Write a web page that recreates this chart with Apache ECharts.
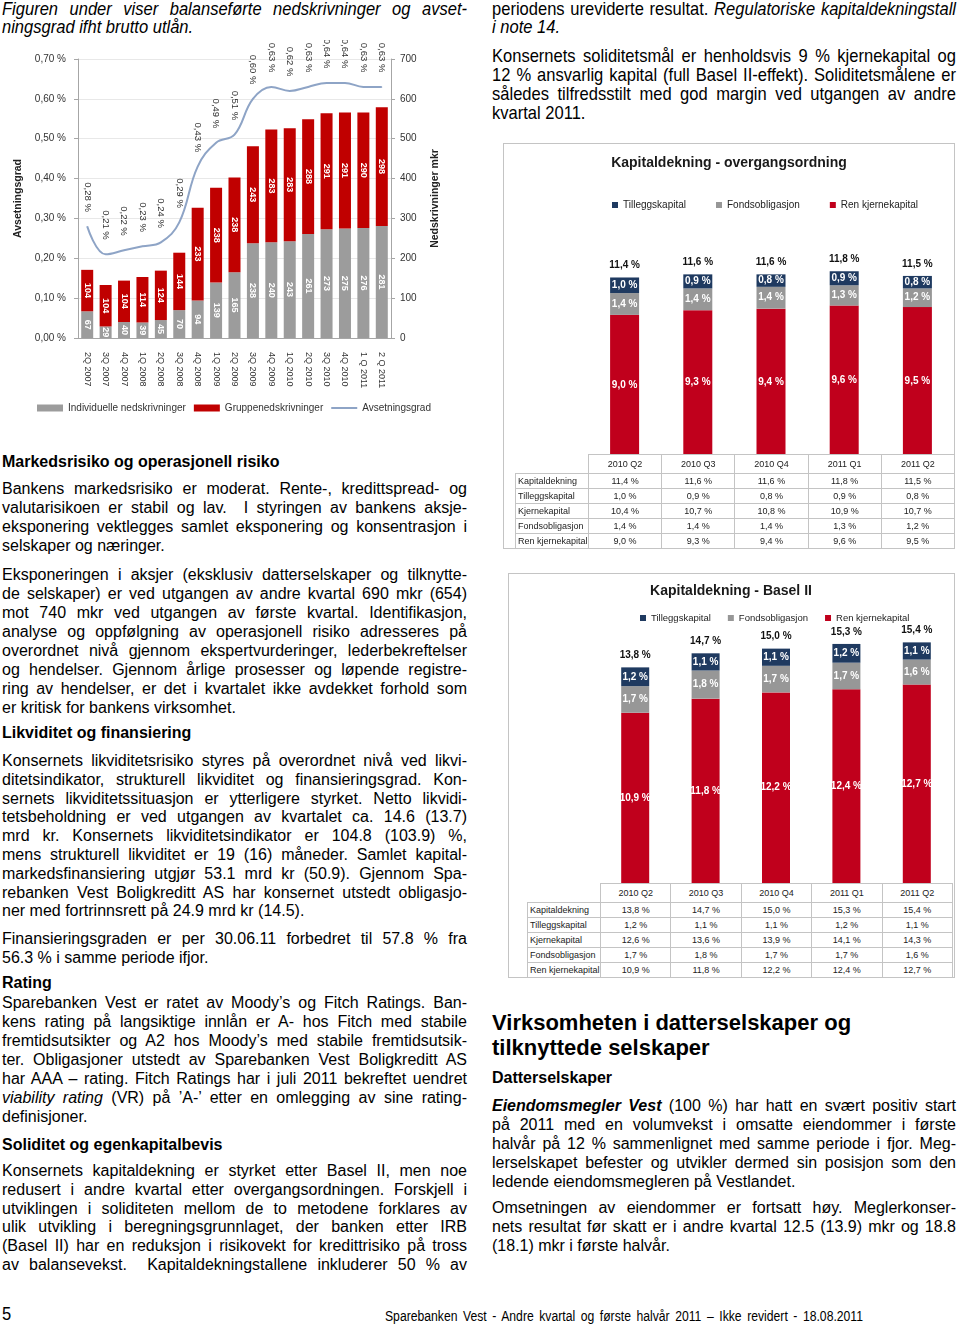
<!DOCTYPE html>
<html>
<head>
<meta charset="utf-8">
<script src="https://cdn.jsdelivr.net/npm/echarts@6/dist/echarts.min.js"></script>
<style>
  body { margin: 0; background: #fff; }
  #page { position: relative; width: 960px; height: 1325px; overflow: hidden;
          font-family: "Liberation Sans", Arial, sans-serif; color: #000; }
  .ln { position: absolute; text-align: justify; text-align-last: justify; font-size: 16px; }
  .last { text-align-last: left; }
  .b { font-weight: bold; }
  .nar { transform: scaleX(0.87); transform-origin: 0 0; font-size: 19px; }
  .box { position: absolute; border: 1px solid #C4C4C4; box-sizing: border-box; }
  .chart { position: absolute; }
  table.dt { position: absolute; border-collapse: collapse; table-layout: fixed;
             font-size: 9px; color: #222; }
  table.dt td { border: 1px solid #C4C4C4; padding: 0; text-align: center; white-space: nowrap; }
  table.dt td.h { text-align: left; padding-left: 2px; }
  table.dt td.blank { border-top: none; border-left: none; }
</style>
</head>
<body>
<div id="page">
  <div class="box" style="left:503px;top:143px;width:452px;height:406px;"></div>
  <div class="box" style="left:508px;top:573px;width:447px;height:405px;"></div>
  <div id="c1" class="chart" style="left:0;top:40px;width:466px;height:390px;"></div>
  <div id="c2" class="chart" style="left:503px;top:143px;width:452px;height:312px;"></div>
  <div id="c3" class="chart" style="left:508px;top:573px;width:446px;height:310px;"></div>
</div>
<script>
// nedskrivninger og avsetningsgrad
const quarters = ["2Q 2007", "3Q 2007", "4Q 2007", "1Q 2008", "2Q 2008", "3Q 2008", "4Q 2008",
  "1Q 2009", "2Q 2009", "3Q 2009", "4Q 2009", "1Q 2010", "2Q 2010", "3Q 2010", "4Q 2010",
  "1 Q 2011", "2 Q 2011"];
const individual = [67, 29, 40, 39, 45, 70, 94, 139, 165, 238, 240, 243, 261, 273, 275, 276, 281];
const group = [104, 104, 104, 114, 124, 144, 233, 238, 238, 243, 283, 283, 288, 291, 291, 290, 298];
const provisionRate = [0.28, 0.21, 0.22, 0.23, 0.24, 0.29, 0.43, 0.49, 0.51, 0.60, 0.63, 0.62,
  0.63, 0.64, 0.64, 0.63, 0.63];

// kapitaldekning
const periods = ["2010 Q2", "2010 Q3", "2010 Q4", "2011 Q1", "2011 Q2"];
const trTotal = [11.4, 11.6, 11.6, 11.8, 11.5];
const trTillegg = [1.0, 0.9, 0.8, 0.9, 0.8];
const trKjerne = [10.4, 10.7, 10.8, 10.9, 10.7];
const trFonds = [1.4, 1.4, 1.4, 1.3, 1.2];
const trRen = [9.0, 9.3, 9.4, 9.6, 9.5];

const b2Total = [13.8, 14.7, 15.0, 15.3, 15.4];
const b2Tillegg = [1.2, 1.1, 1.1, 1.2, 1.1];
const b2Kjerne = [12.6, 13.6, 13.9, 14.1, 14.3];
const b2Fonds = [1.7, 1.8, 1.7, 1.7, 1.6];
const b2Ren = [10.9, 11.8, 12.2, 12.4, 12.7];

const RED = "#C0001C";
const GREY = "#979797";
const NAVY = "#1F3A60";
const FONT = "Liberation Sans, Arial, sans-serif";
const NARROW = 0.87;

const pct = (v) => v.toFixed(1).replace(".", ",") + " %";
const pct2 = (v) => v.toFixed(2).replace(".", ",") + " %";

const page = document.getElementById("page");

// one div per text line so the line breaks match the page
function block(x, top, w, lh, lines, cls) {
  cls = cls || "";
  const narrow = cls.indexOf("nar") >= 0;
  lines.forEach((t, i) => {
    const d = document.createElement("div");
    d.className = "ln " + cls + (i === lines.length - 1 ? " last" : "");
    d.style.left = x + "px";
    d.style.top = top + i * lh + "px";
    d.style.width = (narrow ? w / NARROW : w) + "px";
    d.style.lineHeight = lh + "px";
    d.style.height = lh + "px";
    d.innerHTML = t;
    page.appendChild(d);
    let fs = parseFloat(getComputedStyle(d).fontSize);
    while (d.scrollHeight > lh * 1.5 && fs > 9) {
      fs -= 0.2;
      d.style.fontSize = fs + "px";
    }
  });
}

function lastOnly(x, top, w, lh, lines, cls) {
  lines.forEach((t, i) => block(x, top + i * lh, w, lh, [t], cls));
}

// left column
block(2, 0, 465, 18, [
  "<i>Figuren under viser balanseførte nedskrivninger og avset-</i>",
  "<i>ningsgrad ifht brutto utlån.</i>"], "nar");

block(2, 452, 465, 19, ["Markedsrisiko og operasjonell risiko"], "b");
block(2, 479, 465, 19, [
  "Bankens markedsrisiko er moderat. Rente-, kredittspread- og",
  "valutarisikoen er stabil og lav.&nbsp; I styringen av bankens aksje-",
  "eksponering vektlegges samlet eksponering og konsentrasjon i",
  "selskaper og næringer."]);
block(2, 565, 465, 19, [
  "Eksponeringen i aksjer (eksklusiv datterselskaper og tilknytte-",
  "de selskaper) er ved utgangen av andre kvartal 690 mkr (654)",
  "mot 740 mkr ved utgangen av første kvartal. Identifikasjon,",
  "analyse og oppfølgning av operasjonell risiko adresseres på",
  "overordnet nivå gjennom ekspertvurderinger, lederbekreftelser",
  "og hendelser. Gjennom årlige prosesser og løpende registre-",
  "ring av hendelser, er det i kvartalet ikke avdekket forhold som",
  "er kritisk for bankens virksomhet."]);

block(2, 723, 465, 19, ["Likviditet og finansiering"], "b");
block(2, 752, 465, 18.8, [
  "Konsernets likviditetsrisiko styres på overordnet nivå ved likvi-",
  "ditetsindikator, strukturell likviditet og finansieringsgrad. Kon-",
  "sernets likviditetssituasjon er ytterligere styrket. Netto likvidi-",
  "tetsbeholdning er ved utgangen av kvartalet ca. 14.6 (13.7)",
  "mrd kr. Konsernets likviditetsindikator er 104.8 (103.9) %,",
  "mens strukturell likviditet er 19 (16) måneder. Samlet kapital-",
  "markedsfinansiering utgjør 53.1 mrd kr (50.9). Gjennom Spa-",
  "rebanken Vest Boligkreditt AS har konsernet utstedt obligasjo-",
  "ner med fortrinnsrett på 24.9 mrd kr (14.5)."]);
block(2, 930, 465, 18.8, [
  "Finansieringsgraden er per 30.06.11 forbedret til 57.8 % fra",
  "56.3 % i samme periode ifjor."]);

block(2, 973, 465, 19, ["Rating"], "b");
block(2, 993, 465, 19, [
  "Sparebanken Vest er ratet av Moody’s og Fitch Ratings. Ban-",
  "kens rating på langsiktige innlån er A- hos Fitch med stabile",
  "fremtidsutsikter og A2 hos Moody’s med stabile fremtidsutsik-",
  "ter. Obligasjoner utstedt av Sparebanken Vest Boligkreditt AS",
  "har AAA – rating. Fitch Ratings har i juli 2011 bekreftet uendret",
  "<i>viability rating</i> (VR) på ’A-’ etter en omlegging av sine rating-",
  "definisjoner."]);

block(2, 1135, 465, 19, ["Soliditet og egenkapitalbevis"], "b");
block(2, 1162, 465, 18.8, [
  "Konsernets kapitaldekning er styrket etter Basel II, men noe",
  "redusert i andre kvartal etter overgangsordningen. Forskjell i",
  "utviklingen i soliditeten mellom de to metodene forklares av",
  "ulik utvikling i beregningsgrunnlaget, der banken etter IRB",
  "(Basel II) har en reduksjon i risikovekt for kredittrisiko på tross",
  "av balansevekst.&nbsp; Kapitaldekningstallene inkluderer 50 % av",
  ""]);

// right column
block(492, 0, 464, 18, [
  "periodens ureviderte resultat. <i>Regulatoriske kapitaldekningstall</i>",
  "<i>i note 14.</i>"], "nar");
block(492, 46, 464, 19, [
  "Konsernets soliditetsmål er henholdsvis 9 % kjernekapital og",
  "12 % ansvarlig kapital (full Basel II-effekt). Soliditetsmålene er",
  "således tilfredsstilt med god margin ved utgangen av andre",
  "kvartal 2011."], "nar");

lastOnly(492, 1010, 464, 25, [
  "Virksomheten i datterselskaper og",
  "tilknyttede selskaper"], "b big");
block(492, 1068, 464, 19, ["Datterselskaper"], "b");
block(492, 1096, 464, 19, [
  "<b><i>Eiendomsmegler Vest</i></b> (100 %) har hatt en svært positiv start",
  "på 2011 med en volumvekst i omsatte eiendommer i første",
  "halvår på 12 % sammenlignet med samme periode i fjor. Meg-",
  "lerselskapet befester og utvikler dermed sin posisjon som den",
  "ledende eiendomsmegleren på Vestlandet."]);
block(492, 1198, 464, 19, [
  "Omsetningen av eiendommer er fortsatt høy. Meglerkonser-",
  "nets resultat før skatt er i andre kvartal 12.5 (13.9) mkr og 18.8",
  "(18.1) mkr i første halvår."]);

// footer
block(2, 1304, 30, 19, ["5"], "nar");
block(385, 1306, 478, 18, [
  "<span style='font-size:14px'>Sparebanken Vest - Andre kvartal og første halvår 2011 – Ikke revidert - 18.08.2011</span>",
  ""], "nar");

// data tables under the capital charts
function dataTable(left, top, firstW, colW, rows) {
  const t = document.createElement("table");
  t.className = "dt";
  t.style.left = left + "px";
  t.style.top = top + "px";
  t.style.width = firstW + colW * periods.length + "px";
  let html = "<colgroup><col style='width:" + firstW + "px'>";
  periods.forEach(() => { html += "<col style='width:" + colW + "px'>"; });
  html += "</colgroup><tr style='height:19px'><td class='blank'></td>";
  periods.forEach((p) => { html += "<td>" + p + "</td>"; });
  html += "</tr>";
  rows.forEach((r) => {
    html += "<tr style='height:15px'><td class='h'>" + r[0] + "</td>";
    r[1].forEach((v) => { html += "<td>" + pct(v) + "</td>"; });
    html += "</tr>";
  });
  t.innerHTML = html;
  page.appendChild(t);
}

dataTable(515, 454, 73, 73.2, [
  ["Kapitaldekning", trTotal], ["Tilleggskapital", trTillegg], ["Kjernekapital", trKjerne],
  ["Fondsobligasjon", trFonds], ["Ren kjernekapital", trRen]]);
dataTable(527, 883, 73, 70.4, [
  ["Kapitaldekning", b2Total], ["Tilleggskapital", b2Tillegg], ["Kjernekapital", b2Kjerne],
  ["Fondsobligasjon", b2Fonds], ["Ren kjernekapital", b2Ren]]);

// chart 1
const c1 = echarts.init(document.getElementById("c1"));
const axisGrey = "#A6A6A6";
c1.setOption({
  animation: false,
  textStyle: { fontFamily: FONT },
  grid: { left: 78, top: 19, width: 313, height: 279 },
  legend: {
    left: 37, top: 363, padding: 0, itemWidth: 26, itemHeight: 7, itemGap: 8,
    textStyle: { fontSize: 10, color: "#333" },
    data: [
      { name: "Individuelle nedskrivninger", icon: "rect" },
      { name: "Gruppenedskrivninger", icon: "rect" },
      { name: "Avsetningsgrad", icon: "path://M0,0H26V2H0Z" }
    ]
  },
  xAxis: {
    type: "category",
    data: quarters,
    axisTick: { show: false },
    axisLine: { lineStyle: { color: axisGrey } },
    axisLabel: { interval: 0, rotate: -90, fontSize: 9, color: "#333", margin: 14 }
  },
  yAxis: [
    {
      type: "value", min: 0, max: 0.7, interval: 0.1, position: "left",
      name: "Avsetningsgrad", nameLocation: "middle", nameRotate: 90, nameGap: 52,
      nameTextStyle: { fontSize: 10.5, fontWeight: "bold", color: "#222" },
      axisLine: { show: true, lineStyle: { color: axisGrey } },
      axisTick: { show: true, length: 4, lineStyle: { color: axisGrey } },
      axisLabel: { fontSize: 10, color: "#333", margin: 12, formatter: (v) => pct2(v) },
      splitLine: { show: true, lineStyle: { color: "#E8E8E8" } }
    },
    {
      type: "value", min: 0, max: 700, interval: 100, position: "right",
      name: "Nedskrivninger mkr", nameLocation: "middle", nameRotate: 90, nameGap: 39,
      nameTextStyle: { fontSize: 10.5, fontWeight: "bold", color: "#222" },
      axisLine: { show: true, lineStyle: { color: axisGrey } },
      axisTick: { show: true, length: 4, lineStyle: { color: axisGrey } },
      axisLabel: { fontSize: 10, color: "#333", margin: 9 },
      splitLine: { show: false }
    }
  ],
  series: [
    {
      name: "Individuelle nedskrivninger", type: "bar", stack: "ned", yAxisIndex: 1,
      data: individual, barWidth: 12,
      itemStyle: { color: "#9C9C9C" },
      label: { show: true, position: "inside", rotate: -90, fontSize: 9, fontWeight: "bold", color: "#fff" }
    },
    {
      name: "Gruppenedskrivninger", type: "bar", stack: "ned", yAxisIndex: 1,
      data: group, barWidth: 12,
      itemStyle: { color: "#C00000" },
      label: { show: true, position: "inside", rotate: -90, fontSize: 9, fontWeight: "bold", color: "#fff" }
    },
    {
      name: "Avsetningsgrad", type: "line", yAxisIndex: 0, data: provisionRate,
      smooth: 0.4, symbol: "circle", symbolSize: 1, z: 3,
      lineStyle: { color: "#8EA4C6", width: 2 },
      itemStyle: { color: "#8EA4C6" },
      label: {
        show: true, position: "top", distance: 14, rotate: -90,
        align: "right", verticalAlign: "middle", fontSize: 9.5, color: "#333",
        formatter: (p) => pct2(p.value)
      }
    }
  ]
});

// charts 2 and 3
function capChart(id, title, ren, fonds, tillegg, total, g) {
  const ch = echarts.init(document.getElementById(id));
  const inner = (color) => ({
    show: true, position: "inside", color: color, fontSize: 10, fontWeight: "bold",
    formatter: (p) => pct(p.value)
  });
  ch.setOption({
    animation: false,
    textStyle: { fontFamily: FONT },
    title: {
      text: title, left: "center", top: g.titleTop, padding: 0,
      textStyle: { fontSize: 14, fontWeight: "bold", color: "#1a1a1a", fontFamily: FONT }
    },
    legend: {
      left: g.legLeft, top: g.legTop, padding: 0, itemWidth: 6, itemHeight: 6,
      itemGap: g.legGap, icon: "rect",
      textStyle: { fontSize: g.legFont, color: "#222" },
      data: ["Tilleggskapital", "Fondsobligasjon", "Ren kjernekapital"]
    },
    grid: { left: g.left, width: g.width, top: g.top, height: g.height },
    xAxis: { type: "category", data: periods, show: false },
    yAxis: { type: "value", min: 0, max: g.max, show: false },
    series: [
      { name: "Ren kjernekapital", type: "bar", stack: "k", data: ren, barWidth: g.bw,
        itemStyle: { color: RED }, label: inner("#fff") },
      { name: "Fondsobligasjon", type: "bar", stack: "k", data: fonds, barWidth: g.bw,
        itemStyle: { color: GREY }, label: inner("#fff") },
      { name: "Tilleggskapital", type: "bar", stack: "k", data: tillegg, barWidth: g.bw,
        itemStyle: { color: NAVY }, label: inner("#fff") },
      { name: "Kapitaldekning", type: "bar", data: total, barWidth: g.bw, barGap: "-100%",
        silent: true, itemStyle: { color: "rgba(0,0,0,0)" },
        label: { show: true, position: "top", distance: 7, color: "#111", fontSize: 10,
                 fontWeight: "bold", formatter: (p) => pct(p.value) } }
    ]
  });
}

capChart("c2", "Kapitaldekning - overgangsordning", trRen, trFonds, trTillegg, trTotal, {
  titleTop: 13, legLeft: 109, legTop: 57, legGap: 30, legFont: 10,
  left: 85, width: 366, top: 94, height: 218, max: 14, bw: 29
});
capChart("c3", "Kapitaldekning - Basel II", b2Ren, b2Fonds, b2Tillegg, b2Total, {
  titleTop: 11, legLeft: 132, legTop: 40, legGap: 17, legFont: 9.5,
  left: 92, width: 352, top: 60, height: 250, max: 16, bw: 28
});

document.querySelectorAll(".big").forEach((d) => { d.style.fontSize = "22px"; });
</script>
</body>
</html>
